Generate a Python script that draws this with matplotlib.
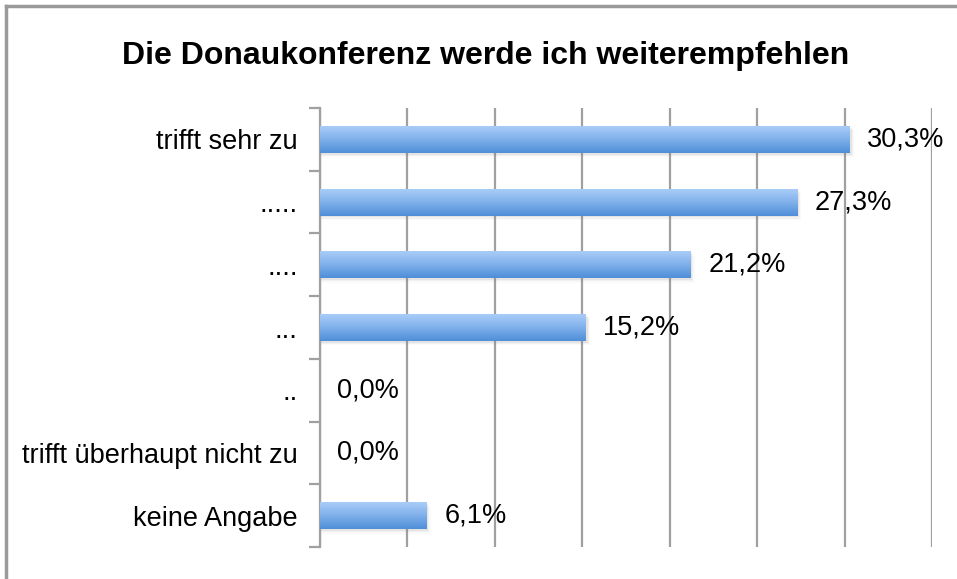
import numpy as np
import matplotlib.pyplot as plt
from matplotlib.colors import LinearSegmentedColormap
from matplotlib.patches import Rectangle

plt.rcParams['font.family'] = ['Liberation Sans', 'DejaVu Sans']

title = "Die Donaukonferenz werde ich weiterempfehlen"
categories = ["trifft sehr zu", ".....", "....", "...", "..",
              "trifft überhaupt nicht zu", "keine Angabe"]
values = [30.3, 27.3, 21.2, 15.2, 0.0, 0.0, 6.1]

fig = plt.figure(figsize=(9.57, 5.79), dpi=100)
ax = fig.add_axes([320/957, 1 - 547/579, (932 - 320)/957, (547 - 108)/579])

# frame around the chart area (top and left edges visible)
fig.add_artist(plt.Line2D([6/957, 1], [1 - 6/579, 1 - 6/579], color='#9a9a9a', lw=2.5,
                          transform=fig.transFigure))
fig.add_artist(plt.Line2D([6/957, 6/957], [0, 1 - 6/579], color='#9a9a9a', lw=2.5,
                          transform=fig.transFigure))

# light at the top, darker at the bottom
cmap = LinearSegmentedColormap.from_list('bar', ['#a9ccf8', '#7fb0ea', '#4f8ed8'])
grad = np.linspace(0, 1, 64).reshape(-1, 1)

n = len(categories)
ypos = np.arange(n)
h = 0.43
ax.set_xlim(0, 35)
ax.set_ylim(n - 0.5, -0.5)

for y, v in zip(ypos, values):
    if v <= 0:
        continue
    # soft shadow
    for k, a in enumerate([0.10, 0.07, 0.04]):
        ax.add_patch(Rectangle((0, y - h/2 + 0.03 + k*0.02), v + 0.1 + k*0.06, h,
                               color='#808080', alpha=a, lw=0, zorder=2))
    ax.imshow(grad, cmap=cmap, aspect='auto', extent=[0, v, y + h/2, y - h/2],
              origin='upper', zorder=3, interpolation='bicubic')
for y, v in zip(ypos, values):
    ax.text(v + 1.0, y, f"{v:.1f}%".replace('.', ','), va='center', ha='left',
            fontsize=19.5, zorder=4)

ax.set_xticks(np.arange(0, 36, 5))
ax.xaxis.grid(True, color='#a0a0a0', lw=1.6)
ax.set_axisbelow(True)
ax.tick_params(axis='x', length=0, labelbottom=False)

ax.set_yticks(np.arange(-0.5, n, 1))
ax.set_yticklabels([])
ax.set_yticks(ypos, minor=True)
ax.set_yticklabels(categories, minor=True, fontsize=19.5)
ax.tick_params(axis='y', which='major', length=8, width=1.6, color='#a0a0a0')
ax.tick_params(axis='y', which='minor', length=0, pad=16)

for s in ['top', 'right', 'bottom']:
    ax.spines[s].set_visible(False)
ax.spines['left'].set_color('#a0a0a0')
ax.spines['left'].set_linewidth(1.6)

fig.text(486/957, 1 - 56/579, title, ha='center', va='center', fontsize=23,
         fontweight='bold')

fig.savefig('out.png', dpi=100)
